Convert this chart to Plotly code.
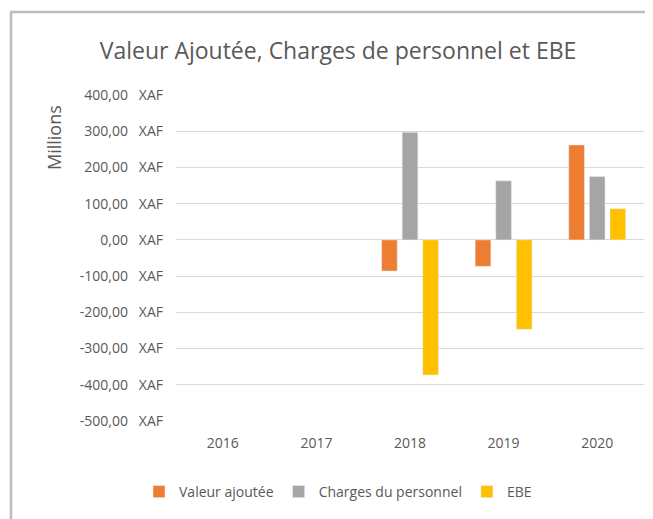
import plotly.graph_objects as go

years = ["2016", "2017", "2018", "2019", "2020"]
valeur_ajoutee = [None, None, -86, -73, 262]
charges_personnel = [None, None, 297, 163, 175]
ebe = [None, None, -373, -247, 86]
y_ticks = [400, 300, 200, 100, 0, -100, -200, -300, -400, -500]

def fmt(v):
    return f"{v:.2f}".replace(".", ",") + "\u00a0\u00a0\u00a0XAF"

OFF = 8  # page body margin
W, H = 653 - OFF, 519 - OFF
L, R, T, B = 176 - OFF, 9, 95 - OFF, 98
pw, ph = W - L - R, H - T - B

def px(x):
    return (x - OFF - L) / pw

def py(y):
    return 1 - (y - OFF - T) / ph

font = "Open Sans"
txt = "#595959"
border = dict(color="#BDBDBD", width=2.5)

fig = go.Figure()
fig.add_bar(x=years, y=valeur_ajoutee, name="Valeur ajoutée", marker_color="#ED7D31")
fig.add_bar(x=years, y=charges_personnel, name="Charges du personnel", marker_color="#A5A5A5")
fig.add_bar(x=years, y=ebe, name="EBE", marker_color="#FFC000")

fig.update_layout(
    width=W, height=H,
    margin=dict(l=L, r=R, t=T, b=B, autoexpand=False),
    paper_bgcolor="white", plot_bgcolor="white",
    barmode="group", bargap=0.34, bargroupgap=0.24,
    font=dict(family=font, color=txt, size=14),
    title=dict(text="Valeur Ajoutée, Charges de personnel et EBE",
               xref="container", yref="container",
               x=(338 - OFF) / W, xanchor="center", y=1 - (51 - OFF) / H, yanchor="middle",
               font=dict(family=font, size=23, color=txt)),
    showlegend=True,
    legend=dict(orientation="h", x=px(338), xanchor="center", y=py(492), yanchor="middle",
                font=dict(family=font, size=14, color=txt), bgcolor="rgba(0,0,0,0)",
                traceorder="normal", itemwidth=30),
    xaxis=dict(type="category", showgrid=False, showline=False, zeroline=False,
               ticks="", tickfont=dict(family=font, size=14, color=txt), ticklabelstandoff=12),
    yaxis=dict(range=[-500, 400], tickvals=y_ticks, ticktext=[fmt(v) for v in y_ticks],
               showgrid=True, gridcolor="#D9D9D9", gridwidth=1, zeroline=True,
               zerolinecolor="#D9D9D9", zerolinewidth=1, showline=False, ticks="",
               tickfont=dict(family=font, size=14, color=txt), ticklabelstandoff=12),
    annotations=[dict(text="Millions", xref="paper", yref="paper", x=px(54), y=py(137),
                      textangle=-90, showarrow=False, xanchor="center", yanchor="middle",
                      font=dict(family=font, size=18, color=txt))],
    shapes=[
        dict(type="line", xref="paper", yref="paper", x0=px(11), y0=py(560), x1=px(11), y1=py(12),
             line=border, layer="below"),
        dict(type="line", xref="paper", yref="paper", x0=px(10), y0=py(12), x1=px(700), y1=py(12),
             line=border, layer="below"),
    ],
)

fig.write_html("out.html")
